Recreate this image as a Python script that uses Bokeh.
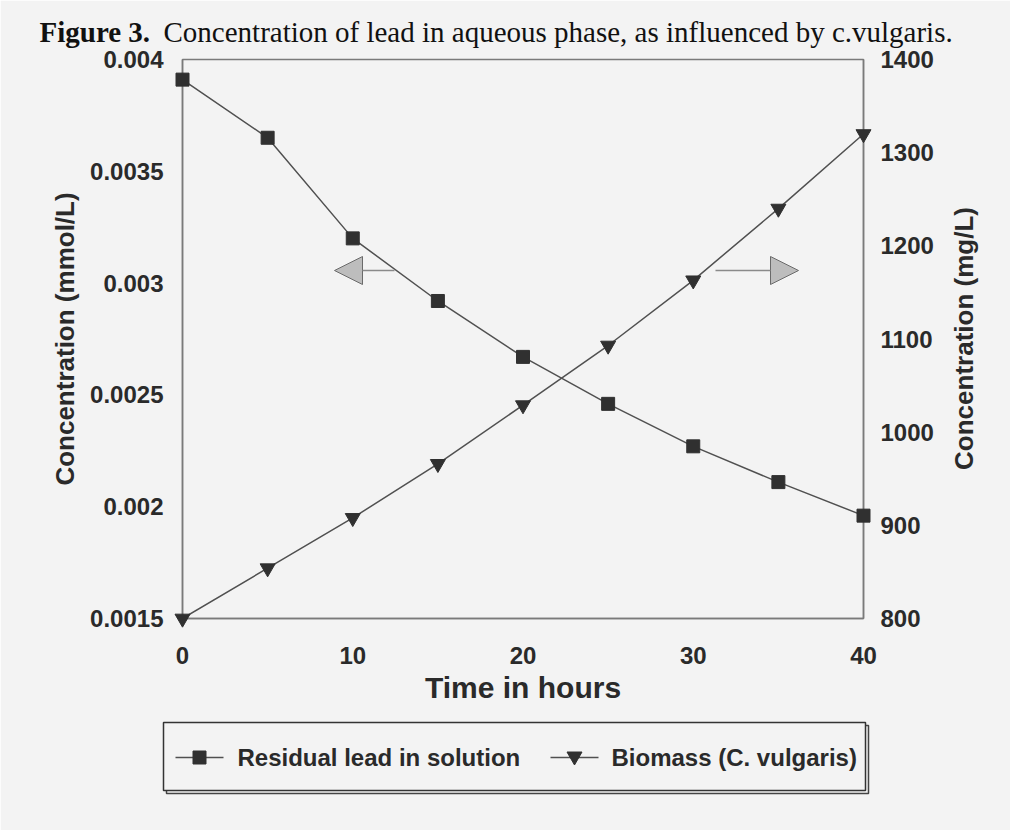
import math
from bokeh.plotting import figure
from bokeh.models import Range1d, LinearAxis, FixedTicker, Arrow, NormalHead
from bokeh.core.properties import value
from bokeh.embed import file_html
from bokeh.resources import INLINE

# ---------------- data ----------------
title_bold = "Figure 3."
title_rest = "Concentration of lead in aqueous phase, as influenced by c.vulgaris."
x_label = "Time in hours"
left_label = "Concentration (mmol/L)"
right_label = "Concentration (mg/L)"
series_names = ["Residual lead in solution", "Biomass (C. vulgaris)"]

time_h = [0, 5, 10, 15, 20, 25, 30, 35, 40]
residual_lead = [0.00391, 0.00365, 0.00320, 0.00292, 0.00267, 0.00246, 0.00227, 0.00211, 0.00196]
biomass = [800, 854, 908, 966, 1029, 1093, 1163, 1240, 1320]

x_ticks = [0, 10, 20, 30, 40]
left_ticks = [0.0015, 0.002, 0.0025, 0.003, 0.0035, 0.004]
left_tick_labels = ["0.0015", "0.002", "0.0025", "0.003", "0.0035", "0.004"]
right_ticks = [800, 900, 1000, 1100, 1200, 1300, 1400]

# ---------------- styles ----------------
BG = "#f3f3f3"
TXT = "#2a2a2a"
AX = "#7a7a7a"
LINE = "#505050"
MARK = "#303030"
SANS = "Liberation Sans"
SERIF = "Liberation Serif"

X0, X1 = 0, 40
Y0, Y1 = 0.0015, 0.004
p = figure(width=1010, height=830,
           x_range=Range1d(X0, X1), y_range=Range1d(Y0, Y1),
           output_backend="svg", toolbar_location=None,
           min_border_left=182, min_border_right=147,
           min_border_top=59, min_border_bottom=212)
p.extra_y_ranges = {"right": Range1d(800, 1400)}
p.grid.visible = False
p.background_fill_color = BG
p.border_fill_color = BG
p.outline_line_color = AX
p.outline_line_width = 1.5

# pixel helpers for decorations placed outside the frame (frame: x 182..863, y 59..618)
FL, FR, FT, FB = 182, 863, 59, 618
def dx(px):
    return X0 + (px - FL) * (X1 - X0) / (FR - FL)
def dy(py):
    return Y0 + (FB - py) * (Y1 - Y0) / (FB - FT)

def style_axis(ax, standoff, label_standoff):
    ax.axis_line_color = AX
    ax.axis_line_width = 1.5
    ax.major_tick_out = 0
    ax.major_tick_in = 0
    ax.minor_tick_out = 0
    ax.minor_tick_in = 0
    ax.major_label_text_font = SANS
    ax.major_label_text_font_style = "bold"
    ax.major_label_text_font_size = "24px"
    ax.major_label_text_color = TXT
    ax.major_label_standoff = standoff
    ax.axis_label_text_font = SANS
    ax.axis_label_text_font_style = "bold"
    ax.axis_label_text_color = TXT
    ax.axis_label_standoff = label_standoff

xa = p.xaxis[0]
style_axis(xa, 28, 4)
xa.ticker = FixedTicker(ticks=x_ticks)
xa.axis_label = x_label
xa.axis_label_text_font_size = "30px"

ya = p.yaxis[0]
style_axis(ya, 19, 7)
ya.ticker = FixedTicker(ticks=left_ticks)
ya.major_label_overrides = dict(zip(left_ticks, left_tick_labels))
ya.axis_label = left_label
ya.axis_label_text_font_size = "26px"

ra = LinearAxis(y_range_name="right")
style_axis(ra, 17, 17)
ra.ticker = FixedTicker(ticks=right_ticks)
p.add_layout(ra, "right")

# right axis title, reading bottom-to-top like the left one
p.text(x=[dx(963)], y=[dy(338)], text=[right_label], angle=math.pi / 2,
       text_font=value(SANS), text_font_style="bold", text_font_size="26px",
       text_color=TXT, text_align="center", text_baseline="middle", level="overlay")

# ---------------- series ----------------
r1l = p.line(time_h, residual_lead, line_color=LINE, line_width=1.5)
r1s = p.scatter(time_h, residual_lead, marker="square", size=13,
                fill_color=MARK, line_color=MARK, level="overlay")
r2l = p.line(time_h, biomass, y_range_name="right", line_color=LINE, line_width=1.5)
r2s = p.scatter(time_h, biomass, marker="inverted_triangle", size=15, y_range_name="right",
                fill_color=MARK, line_color=MARK, level="overlay")

# ---------------- arrows ----------------
p.add_layout(Arrow(end=NormalHead(size=28, fill_color="#bdbdbd", line_color="#6a6a6a", line_width=1),
                   x_start=dx(394), y_start=dy(270), x_end=dx(334), y_end=dy(270),
                   line_color="#8a8a8a", line_width=1.5))
p.add_layout(Arrow(end=NormalHead(size=28, fill_color="#bdbdbd", line_color="#6a6a6a", line_width=1),
                   x_start=dx(715), y_start=dy(270), x_end=dx(798), y_end=dy(270),
                   line_color="#8a8a8a", line_width=1.5))

# ---------------- title (above the frame) ----------------
p.text(x=[dx(39)], y=[dy(31)], text=[title_bold],
       text_font=value(SERIF), text_font_style="bold", text_font_size="29px",
       text_color="#111111", text_baseline="alphabetic", level="overlay")
p.text(x=[dx(163)], y=[dy(31)], text=[title_rest],
       text_font=value(SERIF), text_font_size="29px",
       text_color="#111111", text_baseline="alphabetic", level="overlay")

# ---------------- legend (below the axis title) ----------------
# shadow outline, then the box
p.quad(left=[dx(166)], right=[dx(868)], top=[dy(725)], bottom=[dy(793)],
       fill_color=None, line_color="#444444", line_width=1.5, level="overlay")
p.quad(left=[dx(163)], right=[dx(865)], top=[dy(722)], bottom=[dy(790)],
       fill_color=BG, line_color="#333333", line_width=1.5, level="overlay")
LY = 757
ly = dy(LY)
# item 1: residual lead (line + square key)
p.segment(x0=[dx(175)], y0=[ly], x1=[dx(223)], y1=[ly], line_color=LINE, line_width=1.5,
          level="overlay")
p.quad(left=[dx(192.5)], right=[dx(205.5)], top=[dy(LY - 6.5)], bottom=[dy(LY + 6.5)],
       fill_color=MARK, line_color=MARK, line_width=1, level="overlay")
p.text(x=[dx(237)], y=[ly], text=[series_names[0]], text_font=value(SANS),
       text_font_style="bold", text_font_size="24px", text_color=TXT,
       text_baseline="middle", level="overlay")
# item 2: biomass (line + inverted triangle key)
p.segment(x0=[dx(550)], y0=[ly], x1=[dx(598)], y1=[ly], line_color=LINE, line_width=1.5,
          level="overlay")
p.patch(x=[dx(566.5), dx(581.5), dx(574)], y=[dy(LY - 5.5), dy(LY - 5.5), dy(LY + 7.5)],
        fill_color=MARK, line_color=MARK, line_width=1, level="overlay")
p.text(x=[dx(611)], y=[ly], text=[series_names[1]], text_font=value(SANS),
       text_font_style="bold", text_font_size="24px", text_color=TXT,
       text_baseline="middle", level="overlay")

open("out.html", "w").write(file_html(p, INLINE))
